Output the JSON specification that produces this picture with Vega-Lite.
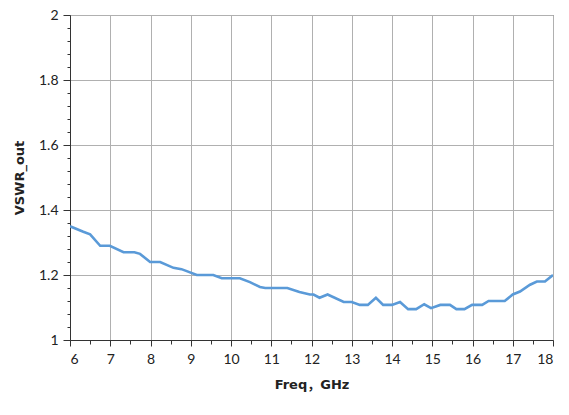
{
  "$schema": "https://vega.github.io/schema/vega-lite/v6.json",
  "autosize": "none",
  "width": 483,
  "height": 325,
  "padding": {"left": 70, "top": 15, "right": 16, "bottom": 75},
  "background": "white",
  "config": {"view": {"stroke": "#555", "strokeWidth": 1}},
  "data": {"values": [
    {"f": 6.0, "v": 1.35}, {"f": 6.33, "v": 1.333}, {"f": 6.5, "v": 1.325}, {"f": 6.75, "v": 1.29}, {"f": 6.99, "v": 1.29},
    {"f": 7.33, "v": 1.27}, {"f": 7.6, "v": 1.27}, {"f": 7.74, "v": 1.265}, {"f": 7.99, "v": 1.24}, {"f": 8.24, "v": 1.24},
    {"f": 8.57, "v": 1.222}, {"f": 8.77, "v": 1.218}, {"f": 9.15, "v": 1.2}, {"f": 9.56, "v": 1.2}, {"f": 9.77, "v": 1.19},
    {"f": 10.22, "v": 1.19}, {"f": 10.47, "v": 1.178}, {"f": 10.72, "v": 1.163}, {"f": 10.85, "v": 1.16}, {"f": 11.4, "v": 1.16},
    {"f": 11.7, "v": 1.148}, {"f": 11.96, "v": 1.14}, {"f": 12.05, "v": 1.14}, {"f": 12.2, "v": 1.13}, {"f": 12.4, "v": 1.14},
    {"f": 12.8, "v": 1.117}, {"f": 13.0, "v": 1.117}, {"f": 13.2, "v": 1.108}, {"f": 13.4, "v": 1.108}, {"f": 13.6, "v": 1.13},
    {"f": 13.78, "v": 1.108}, {"f": 14.0, "v": 1.108}, {"f": 14.2, "v": 1.117}, {"f": 14.4, "v": 1.095}, {"f": 14.6, "v": 1.095},
    {"f": 14.8, "v": 1.11}, {"f": 14.97, "v": 1.098}, {"f": 15.2, "v": 1.108}, {"f": 15.44, "v": 1.108}, {"f": 15.6, "v": 1.095},
    {"f": 15.8, "v": 1.095}, {"f": 15.99, "v": 1.108}, {"f": 16.24, "v": 1.108}, {"f": 16.4, "v": 1.12}, {"f": 16.8, "v": 1.12},
    {"f": 17.0, "v": 1.14}, {"f": 17.18, "v": 1.149}, {"f": 17.43, "v": 1.17}, {"f": 17.6, "v": 1.18}, {"f": 17.8, "v": 1.18},
    {"f": 18.0, "v": 1.2}
  ]},
  "mark": {"type": "line", "color": "#5a9ad8", "strokeWidth": 2.6, "clip": true},
  "encoding": {
    "x": {
      "field": "f", "type": "quantitative",
      "scale": {"domain": [6, 18], "nice": false, "zero": false},
      "axis": {
        "title": "Freq，GHz",
        "titleFont": "DejaVu Sans, Noto Sans CJK SC", "titleFontSize": 13, "titleFontWeight": "bold", "titleColor": "#222", "titlePadding": 12,
        "values": [6, 6.5, 7, 7.5, 8, 8.5, 9, 9.5, 10, 10.5, 11, 11.5, 12, 12.5, 13, 13.5, 14, 14.5, 15, 15.5, 16, 16.5, 17, 17.5, 18],
        "labelExpr": "datum.value % 1 === 0 ? format(datum.value, '~g') : ''",
        "labelOverlap": false,
        "labelFont": "Lato", "labelFontSize": 14, "labelColor": "#222", "labelPadding": 6,
        "domainColor": "#333", "tickColor": "#333",
        "tickSize": {"condition": {"test": "datum.value % 1 !== 0", "value": 4}, "value": 6},
        "grid": true, "gridColor": "#b0b0b0", "gridWidth": 1,
        "gridOpacity": {"condition": {"test": "datum.value % 1 !== 0", "value": 0}, "value": 1}
      }
    },
    "y": {
      "field": "v", "type": "quantitative",
      "scale": {"domain": [1, 2], "nice": false, "zero": false},
      "axis": {
        "title": "VSWR_out",
        "titleFont": "DejaVu Sans", "titleFontSize": 13, "titleFontWeight": "bold", "titleColor": "#222", "titlePadding": 12,
        "values": [1, 1.04, 1.08, 1.12, 1.16, 1.2, 1.24, 1.28, 1.32, 1.36, 1.4, 1.44, 1.48, 1.52, 1.56, 1.6, 1.64, 1.68, 1.72, 1.76, 1.8, 1.84, 1.88, 1.92, 1.96, 2],
        "labelExpr": "abs(datum.value*5 - round(datum.value*5)) > 0.001 ? '' : format(datum.value, '~g')",
        "labelOverlap": false,
        "labelFont": "Lato", "labelFontSize": 14, "labelColor": "#222", "labelPadding": 5,
        "domainColor": "#333", "tickColor": "#333",
        "tickSize": {"condition": {"test": "abs(datum.value*5 - round(datum.value*5)) > 0.001", "value": 3}, "value": 7},
        "grid": true, "gridColor": "#b0b0b0", "gridWidth": 1,
        "gridOpacity": {"condition": {"test": "abs(datum.value*5 - round(datum.value*5)) > 0.001", "value": 0}, "value": 1}
      }
    }
  }
}
